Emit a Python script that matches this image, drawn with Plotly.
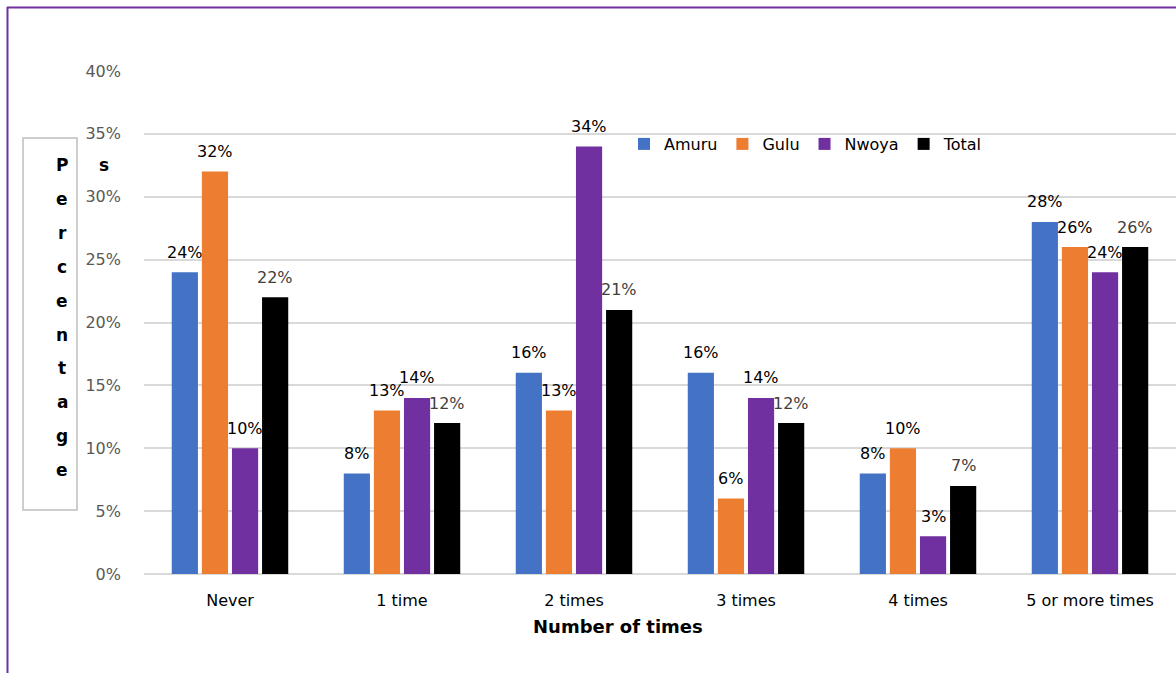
import plotly.graph_objects as go

categories = ["Never", "1 time", "2 times", "3 times", "4 times", "5 or more times"]
amuru = [24, 8, 16, 16, 8, 28]
gulu = [32, 13, 13, 6, 10, 26]
nwoya = [10, 14, 34, 14, 3, 24]
total = [22, 12, 21, 12, 7, 26]
series_names = ["Amuru", "Gulu", "Nwoya", "Total"]
series_values = [amuru, gulu, nwoya, total]
series_colors = ["#4472C4", "#ED7D31", "#7030A0", "#000000"]
label_colors = ["#000000", "#000000", "#000000", "#404040"]
y_ticks = [0, 5, 10, 15, 20, 25, 30, 35, 40]
y_title_letters = list("Percentage")
x_title = "Number of times"

W, H = 1176, 673
ML, MR, MT, MB = 144, 0, 71, 99
PW = W - ML - MR
PH = H - MT - MB
FONT = "DejaVu Sans"
BARGAP = 0.30
BARGROUPGAP = 0.13


def px2x(px):
    return (px - ML) / PW


def py2y(py):
    return (H - MB - py) / PH


fig = go.Figure()
for name, vals, col in zip(series_names, series_values, series_colors):
    fig.add_trace(go.Bar(
        name=name, x=categories, y=[v / 100 for v in vals],
        marker=dict(color=col, line=dict(width=0)),
    ))

# data labels
slot = PW / len(categories) * (1 - BARGAP) / len(series_names)
annotations = []
for i, (vals, lc) in enumerate(zip(series_values, label_colors)):
    for c, v in zip(categories, vals):
        annotations.append(dict(
            x=c, y=v / 100, xref="x", yref="y", text=f"{v}%",
            showarrow=False, xshift=(i - 1.5) * slot, yshift=20,
            yanchor="middle", font=dict(family=FONT, size=16, color=lc),
        ))

# vertical stacked y-axis title
for k, ch in enumerate(y_title_letters):
    annotations.append(dict(
        x=px2x(62), y=py2y(165 + k * 33.9), xref="paper", yref="paper",
        text=f"<b>{ch}</b>", showarrow=False, xanchor="center", yanchor="middle",
        font=dict(family=FONT, size=17, color="#000000"),
    ))
annotations.append(dict(
    x=px2x(104), y=py2y(165), xref="paper", yref="paper", text="<b>s</b>",
    showarrow=False, xanchor="center", yanchor="middle",
    font=dict(family=FONT, size=17, color="#000000"),
))
# x-axis title (offset to the left like the original)
annotations.append(dict(
    x=px2x(618), y=py2y(626), xref="paper", yref="paper", text=f"<b>{x_title}</b>",
    showarrow=False, xanchor="center", yanchor="middle",
    font=dict(family=FONT, size=18, color="#000000"),
))

shapes = [
    # y title box
    dict(type="rect", xref="paper", yref="paper",
         x0=px2x(23), x1=px2x(77), y0=py2y(510), y1=py2y(138),
         line=dict(color="#BFBFBF", width=1.5), layer="above"),
    # purple chart border (top and left visible)
    dict(type="line", xref="paper", yref="paper",
         x0=px2x(7), x1=px2x(1200), y0=py2y(7.5), y1=py2y(7.5),
         line=dict(color="#7030A0", width=2)),
    dict(type="line", xref="paper", yref="paper",
         x0=px2x(7.5), x1=px2x(7.5), y0=py2y(7), y1=py2y(700),
         line=dict(color="#7030A0", width=2)),
]

fig.update_layout(
    width=W, height=H,
    margin=dict(l=ML, r=MR, t=MT, b=MB, autoexpand=False),
    paper_bgcolor="white", plot_bgcolor="white",
    barmode="group", bargap=BARGAP, bargroupgap=BARGROUPGAP,
    font=dict(family=FONT, size=16, color="#000000"),
    legend=dict(orientation="h", x=px2x(806), y=py2y(144), xanchor="center",
                yanchor="middle", font=dict(family=FONT, size=16, color="#000000"),
                bgcolor="rgba(0,0,0,0)", itemwidth=30, tracegroupgap=0),
    annotations=annotations,
    shapes=shapes,
    showlegend=True,
)
fig.update_xaxes(
    showgrid=False, showline=False, ticks="",
    tickfont=dict(family=FONT, size=16, color="#000000"),
    ticklabelstandoff=15,
)
fig.update_yaxes(
    range=[0, 0.40], tickvals=[t / 100 for t in y_ticks],
    ticktext=[f"{t}%" for t in y_ticks],
    showgrid=True, gridcolor="#D9D9D9", gridwidth=2,
    zeroline=True, zerolinecolor="#D9D9D9", zerolinewidth=2,
    showline=False, ticks="",
    tickfont=dict(family=FONT, size=16, color="#595959"),
    ticklabelstandoff=22,
)

fig.write_html("out.html")
